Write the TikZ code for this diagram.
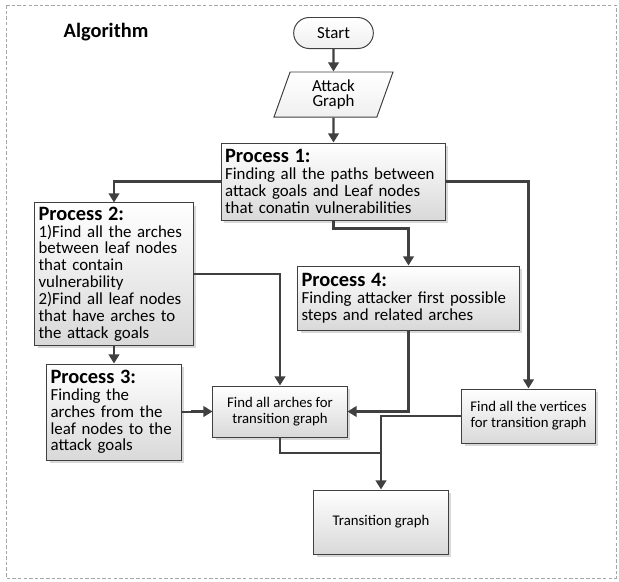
\documentclass[tikz,border=0pt]{standalone}
\usepackage{fontspec}
\setmainfont{Carlito}
\usetikzlibrary{arrows.meta,shapes.misc,shapes.geometric,shadows}
\definecolor{lineGray}{HTML}{404040}
\definecolor{frameGray}{HTML}{A6A6A6}
\newcommand{\procHead}[1]{{\fontsize{14.5}{14.5}\selectfont\bfseries #1}}

\begin{document}
\begin{tikzpicture}[%%
  x=0.025cm,y=-0.025cm,%%
  arrowStyle/.style={-{Triangle[length=6.5pt,width=7.5pt]},line width=1.6pt,draw=lineGray},%%
  lineStyle/.style={-,line width=1.6pt,draw=lineGray},%%
  frameStyle/.style={draw=frameGray,dash pattern=on 2.5pt off 1.5pt,line width=0.6pt},%%
  boxStyle/.style={draw=lineGray,line width=0.7pt,top color=white,bottom color=gray!30,%%
    drop shadow={shadow xshift=2pt,shadow yshift=-2pt,fill=gray!60,opacity=0.5},%%
    inner xsep=0.09cm,inner ysep=0pt,align=left,font=\fontsize{12}{12}\selectfont},%%
  smallBoxStyle/.style={boxStyle,align=center,font=\fontsize{10.5}{11.5}\selectfont},%%
  startStyle/.style={rounded rectangle,draw=lineGray,line width=0.7pt,top color=white,%%
    bottom color=gray!12,font=\fontsize{12}{12}\selectfont},%%
  inputStyle/.style={trapezium,trapezium left angle=62,trapezium right angle=118,%%
    trapezium stretches body,draw=lineGray,line width=0.7pt,top color=white,%%
    bottom color=gray!12,align=center,inner sep=0pt,font=\fontsize{12}{11.3}\selectfont}%%
]
%%
\useasboundingbox (0,0) rectangle (619,581);
%% Draw the dashed frame.
\draw[frameStyle] (6,5) rectangle (616,578);
\node[font=\fontsize{14.5}{14.5}\selectfont\bfseries] (algoTitle) at (106,32) {Algorithm};
%%
%% The start and the input.
\node[startStyle,minimum width=2.225cm,minimum height=0.775cm] (start) at (333.5,33) {Start};
\node[inputStyle,minimum width=2.975cm,minimum height=1.125cm] (attackGraph) at (333.5,94.5) {Attack\\Graph};
%%
%% The process boxes.
\node[boxStyle,text width=5.42cm,minimum height=1.925cm] (procOne) at (333.5,181.5)
  {\procHead{Process 1:}\\Finding all the paths between\\attack goals and Leaf nodes\\that conatin vulnerabilities};
\node[boxStyle,text width=3.77cm,minimum height=3.55cm] (procTwo) at (114,274)
  {\procHead{Process 2:}\\1)Find all the arches\\between leaf nodes\\that contain\\vulnerability\\2)Find all leaf nodes\\that have arches to\\the attack goals};
\node[boxStyle,text width=3.17cm,minimum height=2.4cm] (procThree) at (114,412)
  {\procHead{Process 3:}\\Finding the\\arches from the\\leaf nodes to the\\attack goals};
\node[boxStyle,text width=5.345cm,minimum height=1.6cm] (procFour) at (408.5,298)
  {\procHead{Process 4:}\\Finding attacker first possible\\steps and related arches};
%%
%% The result boxes.
\node[smallBoxStyle,minimum width=3.35cm,minimum height=1.275cm] (findArches) at (280,411.5)
  {Find all arches for\\transition graph};
\node[smallBoxStyle,minimum width=3.325cm,minimum height=1.35cm] (findVertices) at (528.5,416)
  {Find all the vertices\\for transition graph};
\node[smallBoxStyle,minimum width=3.35cm,minimum height=1.6cm] (transGraph) at (381,522)
  {Transition graph};
\coordinate (joinPt) at (381,453);
%%
%% Draw the connectors.
\draw[arrowStyle] (start) -- (attackGraph);
\draw[arrowStyle] (attackGraph) -- (procOne);
\draw[arrowStyle] (procOne.west) -| (procTwo.north);
\draw[arrowStyle] (procOne.east) -| (findVertices.north);
\draw[arrowStyle] (procOne.south) -- ++(0,8) -| (procFour.north);
\draw[arrowStyle] (procTwo.east) -| (findArches.north);
\draw[arrowStyle] (procTwo) -- (procThree);
\draw[arrowStyle] (procThree.east) -- ++(11,0) |- (findArches.west);
\draw[arrowStyle] (procFour.south) |- (findArches.east);
\draw[arrowStyle] (findVertices.west) -| (transGraph.north);
\draw[lineStyle] (findArches.south) |- (joinPt);
\end{tikzpicture}
\end{document}
